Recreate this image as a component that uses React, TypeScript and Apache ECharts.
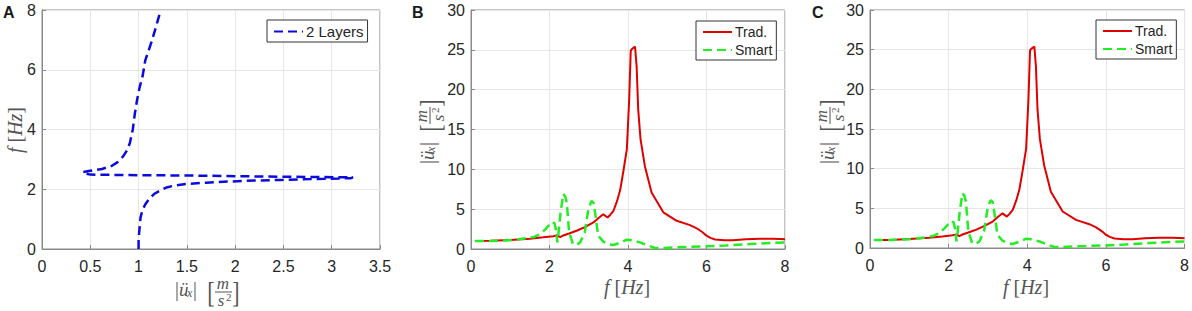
import React, { useEffect, useRef } from "react";
import * as echarts from "echarts";

// ---------- Panel A: 2 Layers (x = |ü_x|, y = f) ----------
const layerAmp = [
  1.0, 1.0, 1.01, 1.02, 1.04, 1.07, 1.11, 1.16, 1.22, 1.29, 1.38, 1.47, 1.7, 1.95, 2.2, 2.46, 2.8, 3.2,
  3.22, 2.8, 2.2, 1.5, 1.0, 0.5, 0.45, 0.42, 0.5, 0.62, 0.71, 0.78, 0.84, 0.88, 0.91, 0.94, 0.96, 0.985,
  1.01, 1.04, 1.07, 1.11, 1.14, 1.19, 1.23,
];
const layerFreq = [
  0.0, 0.3, 0.7, 1.05, 1.3, 1.5, 1.68, 1.84, 1.95, 2.06, 2.13, 2.17, 2.22, 2.26, 2.29, 2.31, 2.34, 2.37,
  2.4, 2.41, 2.43, 2.46, 2.47, 2.49, 2.53, 2.57, 2.62, 2.68, 2.76, 2.9, 3.1, 3.3, 3.55, 4.0, 4.5, 5.0,
  5.4, 5.76, 6.32, 6.7, 6.99, 7.55, 8.0,
];

// ---------- Panels B and C: Trad. / Smart ----------
const tradFreq = [
  0.1, 0.5, 1.0, 1.5, 1.84, 2.1, 2.2, 2.27, 2.35, 2.5, 2.69, 2.9, 3.12, 3.25, 3.37, 3.48, 3.55, 3.63,
  3.72, 3.8, 3.88, 3.97, 4.03, 4.07, 4.1, 4.18, 4.22, 4.26, 4.32, 4.43, 4.6, 4.9, 5.24, 5.58, 5.75,
  5.9, 6.0, 6.1, 6.22, 6.45, 6.68, 7.0, 7.36, 7.7, 8.0,
];
const tradAmp = [
  1.0, 1.02, 1.12, 1.3, 1.46, 1.6, 1.72, 1.5, 1.7, 1.95, 2.29, 2.75, 3.33, 3.9, 4.37, 3.96, 4.3, 4.8,
  6.0, 7.4, 9.7, 12.5, 18.75, 24.9, 25.1, 25.4, 22.9, 17.5, 13.75, 10.4, 7.1, 4.6, 3.54, 3.0, 2.6,
  2.1, 1.67, 1.4, 1.2, 1.1, 1.1, 1.22, 1.3, 1.28, 1.22,
];
const smartFreq = [
  0.1, 0.5, 1.0, 1.42, 1.6, 1.76, 1.9, 1.97, 2.08, 2.13, 2.17, 2.2, 2.23, 2.28, 2.35, 2.4, 2.44, 2.5,
  2.6, 2.7, 2.78, 2.9, 2.99, 3.07, 3.12, 3.16, 3.24, 3.37, 3.5, 3.63, 3.8, 3.97, 4.1, 4.31, 4.5, 4.69,
  4.9, 5.15, 5.5, 6.0, 6.5, 7.1, 7.5, 8.0,
];
const smartAmp = [
  1.0, 1.0, 1.1, 1.35, 1.5, 1.87, 2.5, 2.9, 3.4, 3.2, 2.3, 0.83, 2.0, 4.5, 6.9, 6.6, 5.8, 2.1,
  0.6, 0.55, 0.83, 2.1, 5.0, 6.04, 5.8, 4.6, 1.67, 0.92, 0.6, 0.5, 0.8, 1.17, 1.1, 0.83, 0.45, 0.12,
  0.12, 0.2, 0.25, 0.33, 0.45, 0.62, 0.72, 0.83,
];

const SANS = "'Liberation Sans', Arial, Helvetica, sans-serif";
const SERIF = "'Liberation Serif', 'Times New Roman', serif";
const TXT = "#262626";
const NAMEC = "#555555";
const BOX = "#8a8a8a";
const GRIDC = "#e6e6e6";
const BLUE = "#0b0bdc";
const RED = "#e00000";
const GREEN = "#22ee22";

const zip = (xs: number[], ys: number[]) => xs.map((x, i) => [x, ys[i]]);

const mkAxis = (gridIndex: number, min: number, max: number, interval: number, isX: boolean) => ({
  type: "value",
  gridIndex,
  min,
  max,
  interval,
  axisLine: { show: true, onZero: false, lineStyle: { color: BOX, width: 1 } },
  axisTick: { show: true, inside: true, length: 4, lineStyle: { color: BOX } },
  axisLabel: { color: TXT, fontSize: 16, fontFamily: SANS, margin: isX ? 9 : 6 },
  splitLine: { show: true, lineStyle: { color: GRIDC, width: 1 } },
});

const mkLegend = (data: string[], left: number, top: number, fontSize: number) => ({
  show: true,
  orient: "vertical",
  left,
  top,
  data,
  selectedMode: false,
  backgroundColor: "#ffffff",
  borderColor: "#333333",
  borderWidth: 1,
  borderRadius: 0,
  padding: [4, 4, 3, 6],
  itemWidth: 29,
  itemHeight: 14,
  itemGap: 4,
  itemStyle: { opacity: 0 },
  textStyle: { fontSize, color: TXT, fontFamily: SANS, padding: [0, 0, 0, -2] },
});

const fHzText = (x: number, y: number, rotated: boolean) => ({
  type: "text",
  x,
  y,
  rotation: rotated ? Math.PI / 2 : 0,
  style: {
    text: "{i|f}{n| [}{i|Hz}{n|]}",
    rich: {
      i: { fontFamily: SERIF, fontStyle: "italic", fontSize: 20, fill: NAMEC },
      n: { fontFamily: SERIF, fontSize: 20, fill: NAMEC },
    },
    align: "center",
    verticalAlign: "middle",
  },
});

const accelLabel = (cx: number, cy: number, rotated: boolean) => {
  const t = (text: string, x: number, y: number, size: number, italic: boolean, align = "left", scaleY = 1) => ({
    type: "text",
    x,
    y,
    scaleY,
    style: {
      text,
      fontSize: size,
      fontFamily: SERIF,
      fontStyle: italic ? "italic" : "normal",
      fill: NAMEC,
      align,
      verticalAlign: "middle",
    },
  });
  return {
    type: "group",
    x: cx,
    y: cy,
    rotation: rotated ? Math.PI / 2 : 0,
    children: [
      t("|", -33, -3, 19, false, "left", 1.15),
      t("ü", -29, -3, 19, true),
      t("x", -21, 1, 12, true),
      t("|", -15, -3, 19, false, "left", 1.15),
      t("[", 3, 0, 22, false, "center", 1.35),
      t("m", 15, -9, 17, true, "center"),
      { type: "line", shape: { x1: 7, y1: 0, x2: 24, y2: 0 }, style: { stroke: NAMEC, lineWidth: 1 } },
      t("s", 13, 8, 17, true, "center"),
      t("2", 18, 5, 11, false, "left"),
      t("]", 28, 0, 22, false, "center", 1.35),
    ],
  };
};

const panelLetter = (text: string, x: number) => ({
  type: "text",
  x,
  y: 12,
  style: { text, fontSize: 16, fontWeight: "bold", fontFamily: SANS, fill: "#1a1a1a", verticalAlign: "middle" },
});

export default function App() {
  const ref = useRef<HTMLDivElement>(null);
  useEffect(() => {
    document.body.style.margin = "0";
    if (!ref.current) return;
    const chart = echarts.init(ref.current, undefined, { renderer: "svg" });
    const gridBase = { show: true, borderColor: BOX, borderWidth: 1, backgroundColor: "#ffffff", containLabel: false };
    const dash = [9, 5];
    const lw = 2.5;
    chart.setOption({
      animation: false,
      backgroundColor: "#ffffff",
      grid: [
        { ...gridBase, left: 42, top: 10, width: 338, height: 239 },
        { ...gridBase, left: 471, top: 10, width: 314, height: 239 },
        { ...gridBase, left: 870, top: 10, width: 315, height: 238 },
      ],
      xAxis: [mkAxis(0, 0, 3.5, 0.5, true), mkAxis(1, 0, 8, 2, true), mkAxis(2, 0, 8, 2, true)],
      yAxis: [mkAxis(0, 0, 8, 2, false), mkAxis(1, 0, 30, 5, false), mkAxis(2, 0, 30, 5, false)],
      legend: [
        { ...mkLegend(["2 Layers"], 267, 20, 15), itemWidth: 29 },
        mkLegend(["Trad.", "Smart"], 696, 21, 14),
        mkLegend(["Trad.", "Smart"], 1096, 20, 14),
      ],
      series: [
        {
          type: "line",
          name: "2 Layers",
          xAxisIndex: 0,
          yAxisIndex: 0,
          data: zip(layerAmp, layerFreq),
          symbol: "none",
          lineStyle: { color: BLUE, width: lw, type: dash },
          itemStyle: { color: BLUE },
        },
        {
          type: "line",
          name: "Trad.",
          xAxisIndex: 1,
          yAxisIndex: 1,
          data: zip(tradFreq, tradAmp),
          symbol: "none",
          lineStyle: { color: RED, width: 2, type: "solid" },
          itemStyle: { color: RED },
        },
        {
          type: "line",
          name: "Smart",
          xAxisIndex: 1,
          yAxisIndex: 1,
          data: zip(smartFreq, smartAmp),
          symbol: "none",
          lineStyle: { color: GREEN, width: lw, type: dash },
          itemStyle: { color: GREEN },
        },
        {
          type: "line",
          name: "Trad.",
          xAxisIndex: 2,
          yAxisIndex: 2,
          data: zip(tradFreq, tradAmp),
          symbol: "none",
          lineStyle: { color: RED, width: 2, type: "solid" },
          itemStyle: { color: RED },
        },
        {
          type: "line",
          name: "Smart",
          xAxisIndex: 2,
          yAxisIndex: 2,
          data: zip(smartFreq, smartAmp),
          symbol: "none",
          lineStyle: { color: GREEN, width: lw, type: dash },
          itemStyle: { color: GREEN },
        },
      ],
      graphic: [
        panelLetter("A", 3),
        panelLetter("B", 412),
        panelLetter("C", 812),
        fHzText(15, 130, true),
        accelLabel(208, 292, false),
        fHzText(627, 287, false),
        accelLabel(430, 131, true),
        fHzText(1026, 287, false),
        accelLabel(830, 131, true),
      ],
    });
    return () => chart.dispose();
  }, []);
  return <div ref={ref} style={{ width: 1192, height: 311 }} />;
}
